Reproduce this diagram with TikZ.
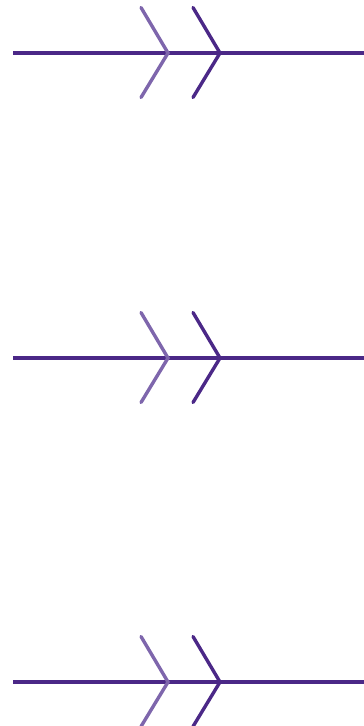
\documentclass[tikz,border=0pt]{standalone}
\definecolor{darkpurple}{RGB}{75,40,135}
\definecolor{lightpurple}{RGB}{126,102,172}
\tikzset{
  mainline/.style={draw=darkpurple, line width=3.8pt},
  chevlight/.style={draw=lightpurple, line width=3.4pt, line cap=round, line join=miter},
  chevdark/.style={draw=darkpurple, line width=3.4pt, line cap=round, line join=miter},
}
\begin{document}
\begin{tikzpicture}[x=1pt,y=-1pt]
\useasboundingbox (0,0) rectangle (364,726);
\foreach \yy in {53,358,682} {
  \coordinate (s) at (13,\yy);
  \coordinate (e) at (364,\yy);
  \draw[mainline] (s) -- (e);
  \draw[chevlight] (141,\yy-45.5) -- (168,\yy) -- (141,\yy+44.5);
  \draw[chevdark] (193,\yy-45.5) -- (220,\yy) -- (193,\yy+44.5);
}
\end{tikzpicture}
\end{document}
